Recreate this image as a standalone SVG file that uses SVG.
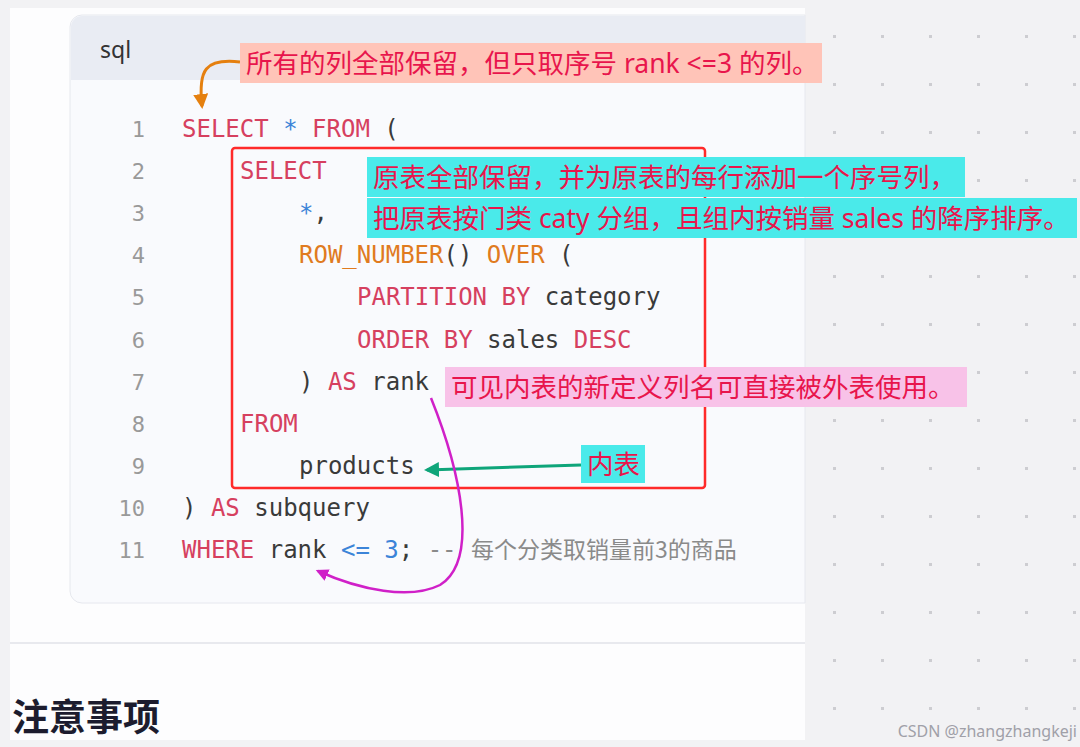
<svg xmlns="http://www.w3.org/2000/svg" width="1080" height="747" viewBox="0 0 1080 747">
<defs>
<pattern id="dots" x="0" y="0" width="48" height="48" patternUnits="userSpaceOnUse"><rect x="17" y="35" width="3" height="3" fill="#cdcdd1"/></pattern>
<marker id="ao" viewBox="0 0 10 10" refX="8" refY="5" markerWidth="5" markerHeight="5" orient="auto"><path d="M0,0L10,5L0,10z" fill="#e5800f"/></marker>
<marker id="ag" viewBox="0 0 10 10" refX="8" refY="5" markerWidth="5" markerHeight="5" orient="auto"><path d="M0,0L10,5L0,10z" fill="#0fa57a"/></marker>
<marker id="am" viewBox="0 0 10 10" refX="8" refY="5" markerWidth="5" markerHeight="5" orient="auto"><path d="M0,0L10,5L0,10z" fill="#d020c8"/></marker>
</defs>
<style>
.code{font-family:"DejaVu Sans Mono","Liberation Mono",monospace;font-size:24px;fill:#3a3a3a}
.ln{font-family:"DejaVu Sans Mono","Liberation Mono",monospace;font-size:22px;fill:#999;text-anchor:end}
.k{fill:#d6405f}.f{fill:#e07b1f}.b{fill:#3c84d8}.c{fill:#8a8a8a;font-family:"Noto Sans CJK SC",sans-serif}
.ann{font-family:"Noto Sans","Noto Sans CJK SC",sans-serif;font-size:26.5px;fill:#e8154c}
</style>
<rect width="1080" height="747" fill="#f2f2f4"/>
<rect x="0" y="0" width="1080" height="747" fill="url(#dots)"/>
<rect x="10" y="8" width="795" height="732" fill="#fdfdfe"/>
<g id="codeblock">
<path d="M805,15H82a12,12 0 0 0 -12,12V591a12,12 0 0 0 12,12H805z" fill="#f9fafd" stroke="#e6e8ee"/>
<path d="M805,16H82a11,11 0 0 0 -11,11V80H805z" fill="#e9ecf3"/>
<text x="100" y="58" font-family="Noto Sans,sans-serif" font-size="23" fill="#333">sql</text>
</g>
<line x1="10" y1="643" x2="805" y2="643" stroke="#e8e9ee" stroke-width="2"/>
<text x="12" y="731" font-family="Noto Sans CJK SC,sans-serif" font-size="37" font-weight="bold" fill="#1c1c2e">注意事项</text>
<g id="code">
<text class="ln" x="145" y="137">1</text><text class="ln" x="145" y="179">2</text><text class="ln" x="145" y="221">3</text><text class="ln" x="145" y="263">4</text><text class="ln" x="145" y="305">5</text><text class="ln" x="145" y="348">6</text><text class="ln" x="145" y="390">7</text><text class="ln" x="145" y="432">8</text><text class="ln" x="145" y="474">9</text><text class="ln" x="145" y="516">10</text><text class="ln" x="145" y="558">11</text>
<text class="code" x="182" y="137" xml:space="preserve"><tspan class="k">SELECT</tspan> <tspan class="b">*</tspan> <tspan class="k">FROM</tspan> (</text>
<text class="code" x="240" y="179"><tspan class="k">SELECT</tspan></text>
<text class="code" x="299" y="221"><tspan class="b">*</tspan>,</text>
<text class="code" x="299" y="263" xml:space="preserve"><tspan class="f">ROW_NUMBER</tspan>() <tspan class="f">OVER</tspan> (</text>
<text class="code" x="357" y="305" xml:space="preserve"><tspan class="k">PARTITION BY</tspan> category</text>
<text class="code" x="357" y="348" xml:space="preserve"><tspan class="k">ORDER BY</tspan> sales <tspan class="k">DESC</tspan></text>
<text class="code" x="299" y="390" xml:space="preserve">) <tspan class="k">AS</tspan> rank</text>
<text class="code" x="240" y="432"><tspan class="k">FROM</tspan></text>
<text class="code" x="299" y="474">products</text>
<text class="code" x="182" y="516" xml:space="preserve">) <tspan class="k">AS</tspan> subquery</text>
<text class="code" x="182" y="558" xml:space="preserve"><tspan class="k">WHERE</tspan> rank <tspan class="b">&lt;=</tspan> <tspan class="b">3</tspan>; <tspan fill="#8a8a8a">--</tspan> <tspan class="c" font-size="23">每个分类取销量前3的商品</tspan></text>
</g>
<rect id="innerbox" x="232" y="148" width="473" height="340" rx="3" fill="none" stroke="#ff2a2a" stroke-width="2.5"/>
<g id="connectors" fill="none" stroke-width="3">
<path d="M240,62C205,58 198,70 202,106" stroke="#e5800f" marker-end="url(#ao)"/>
<path d="M581,465L427,470" stroke="#0fa57a" marker-end="url(#ag)"/>
<path d="M431,398C460,470 480,560 440,585C410,600 360,590 318,571" stroke="#d020c8" stroke-width="2.5" marker-end="url(#am)"/>
</g>
<g id="note1"><rect x="240" y="43" width="582" height="40" fill="#ffc4b8"/><text class="ann" x="246" y="73">所有的列全部保留，但只取序号 rank &lt;=3 的列。</text></g>
<g id="note2"><rect x="367" y="157" width="598" height="40" fill="#4aeaea"/><text class="ann" x="373" y="187">原表全部保留，并为原表的每行添加一个序号列，</text>
<rect x="367" y="198" width="710" height="40" fill="#4aeaea"/><text class="ann" x="373" y="228">把原表按门类 caty 分组，且组内按销量 sales 的降序排序。</text></g>
<g id="note3"><rect x="445" y="367" width="522" height="40" fill="#f8c2e8"/><text class="ann" x="451" y="397">可见内表的新定义列名可直接被外表使用。</text></g>
<g id="note4"><rect x="581" y="445" width="64" height="38" fill="#4aeaea"/><text class="ann" x="587" y="474">内表</text></g>
<text x="1077" y="737" text-anchor="end" font-family="Noto Sans,sans-serif" font-size="16" fill="#a0a0a8">CSDN @zhangzhangkeji</text>
</svg>
